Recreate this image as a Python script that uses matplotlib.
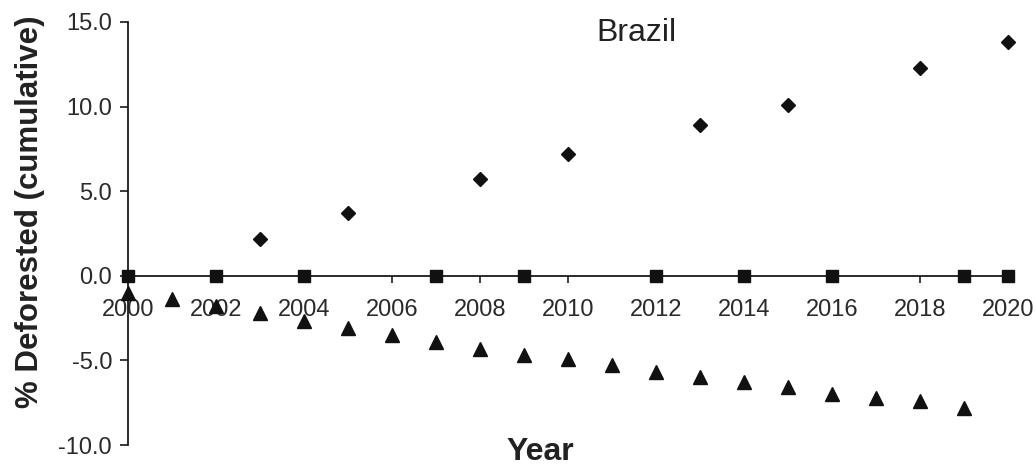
import matplotlib
matplotlib.use("Agg")
import matplotlib.pyplot as plt
from matplotlib.ticker import FormatStrFormatter, MultipleLocator

plt.rcParams['font.family'] = ['Liberation Sans', 'DejaVu Sans']

# Cumulative deforestation, Brazil (% of forest area)
diamond_years = [2003, 2005, 2008, 2010, 2013, 2015, 2018, 2020]
diamond_values = [2.2, 3.7, 5.7, 7.2, 8.9, 10.1, 12.3, 13.8]

square_years = [2000, 2002, 2004, 2007, 2009, 2012, 2014, 2016, 2019, 2020]
square_values = [0.0, 0.0, 0.0, 0.0, 0.0, 0.0, 0.0, 0.0, 0.0, 0.0]

triangle_years = list(range(2000, 2020))
triangle_values = [-1.0, -1.4, -1.8, -2.2, -2.7, -3.1, -3.5, -3.9, -4.3, -4.7,
                   -4.9, -5.3, -5.7, -6.0, -6.3, -6.6, -7.0, -7.2, -7.4, -7.8]

x_ticks = list(range(2000, 2021, 2))
title_text = "Brazil"
x_label = "Year"
y_label = "% Deforested (cumulative)"

fig = plt.figure(figsize=(10.36, 4.68), dpi=100)
ax = fig.add_axes([128 / 1036, 23 / 468, 880 / 1036, 423 / 468])

ink = '#111111'
ax.plot(diamond_years, diamond_values, linestyle='none', marker='D',
        markersize=7.3, color=ink, clip_on=False, zorder=3)
ax.plot(square_years, square_values, linestyle='none', marker='s',
        markersize=9, color=ink, clip_on=False, zorder=3)
ax.plot(triangle_years, triangle_values, linestyle='none', marker='^',
        markersize=10.5, color=ink, clip_on=False, zorder=3)

ax.set_xlim(2000, 2020)
ax.set_ylim(-10, 15)
ax.set_xticks(x_ticks)
ax.set_xticklabels([str(y) for y in x_ticks])
ax.yaxis.set_major_locator(MultipleLocator(5))
ax.yaxis.set_major_formatter(FormatStrFormatter('%.1f'))

for side in ('top', 'right'):
    ax.spines[side].set_visible(False)
ax.spines['bottom'].set_position(('data', 0))
for side in ('bottom', 'left'):
    ax.spines[side].set_linewidth(1.3)
    ax.spines[side].set_color('#1a1a1a')

ax.tick_params(axis='x', direction='out', length=5, width=1.2,
               pad=12, labelsize=17, colors='#1a1a1a', labelcolor='#2a2a2a')
ax.tick_params(axis='y', direction='out', length=6, width=1.2,
               pad=5.5, labelsize=17, colors='#1a1a1a', labelcolor='#2a2a2a')

ax.text(0.578, 0.975, title_text, transform=ax.transAxes, ha='center',
        va='center', fontsize=23, color='#222222')

fig.text(540 / 1036, 1 - 452 / 468, x_label, ha='center', va='center',
         fontsize=23, fontweight='bold', color='#222222')
fig.text(30 / 1036, 1 - 212 / 468, y_label, ha='center', va='center',
         rotation=90, fontsize=22.5, fontweight='bold', color='#222222')

fig.savefig('out.png', dpi=100, facecolor='white')
